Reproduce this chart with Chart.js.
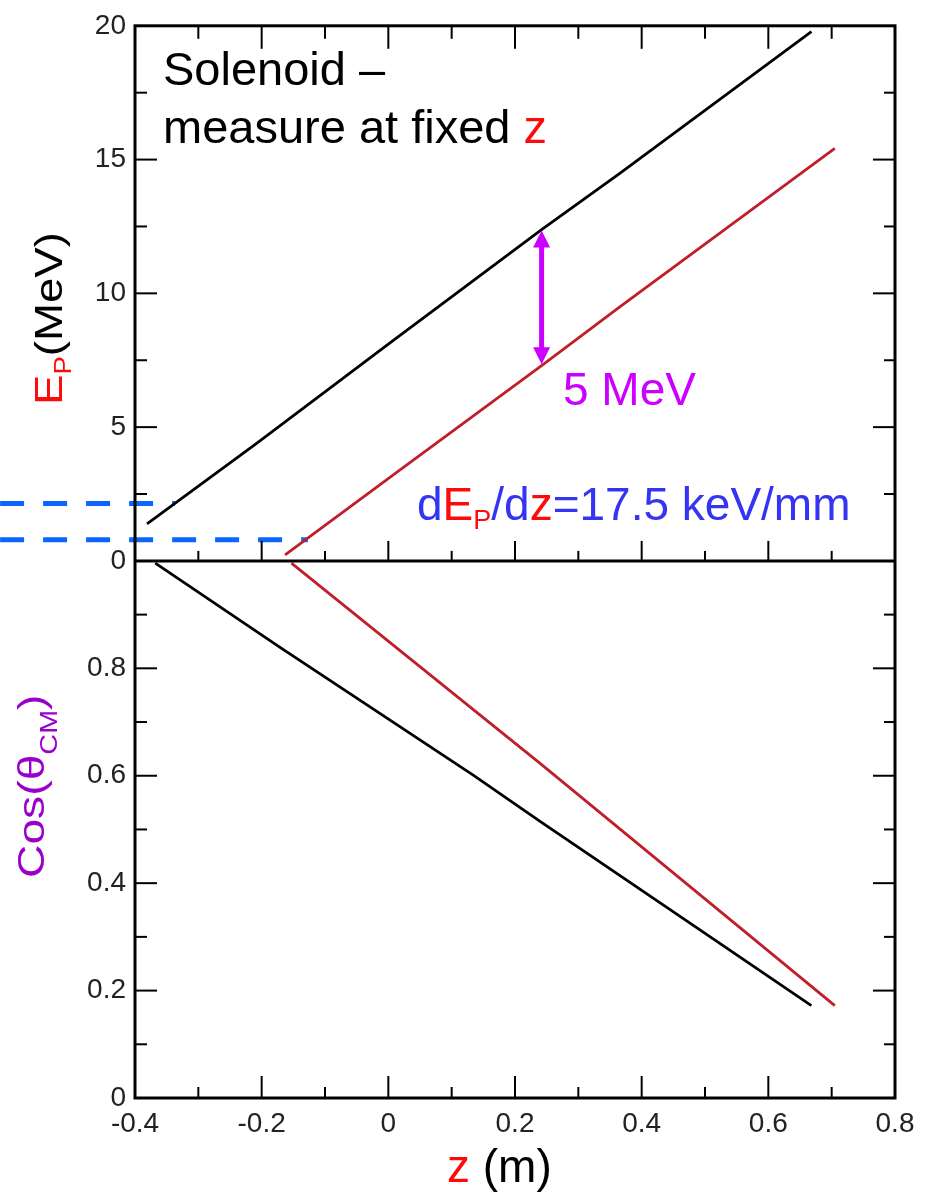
<!DOCTYPE html>
<html>
<head>
<meta charset="utf-8">
<script src="https://cdn.jsdelivr.net/npm/chart.js@4.4.1/dist/chart.umd.min.js"></script>
<style>
  html, body { margin: 0; padding: 0; background: #fff; }
  canvas { display: block; }
</style>
</head>
<body>
<canvas id="chart" width="931" height="1192"></canvas>
<script>
// Proton energy E_P (MeV) against z (m) -- upper panel
const zTopBlack = [-0.381, -0.208, 0.0, 0.242, 0.366, 0.668];
const epBlack   = [1.38, 4.39, 8.1, 12.38, 14.49, 19.78];
const zTopRed   = [-0.163, 0.0185, 0.242, 0.366, 0.705];
const epRed     = [0.23, 3.4, 7.3, 9.5, 15.42];

// cos(theta_CM) against z (m) -- lower panel
const zBotBlack = [-0.368, -0.171, 0.134, 0.2396, 0.492, 0.668];
const cosBlack  = [0.996, 0.839, 0.601, 0.515, 0.313, 0.172];
const zBotRed   = [-0.153, 0.0185, 0.2396, 0.705];
const cosRed    = [0.996, 0.833, 0.623, 0.172];

// energy read-off guides (MeV) and where they meet the curves (m)
const guideLevels = [2.15, 0.79];
const guideStartZ = -0.613;
const guideEndZ   = [-0.337, -0.127];

// the 5 MeV separation at fixed z
const arrowZ = 0.242;
const arrowTopE = 12.35;
const arrowSpan = 5;

// axis ticks and labels
const xTicks = [-0.4, -0.2, 0, 0.2, 0.4, 0.6, 0.8];
const xTickLabels = ['-0.4', '-0.2', '0', '0.2', '0.4', '0.6', '0.8'];
const eTicks = [0, 5, 10, 15, 20];
const eTickLabels = ['0', '5', '10', '15', '20'];
const cTicks = [0, 0.2, 0.4, 0.6, 0.8, 1];
const cTickLabels = ['0', '0.2', '0.4', '0.6', '0.8', ''];

const FONT = "'Liberation Sans', Arial, Helvetica, sans-serif";
const RED_LINE = '#c01f2a';
const MAGENTA = '#cc00ff';
const BLUE_TEXT = '#3434f2';
const RED_TEXT = '#ff0a0a';
const PURPLE = '#9900cc';

const pts = (xs, ys) => xs.map((x, i) => ({ x, y: ys[i] }));

function curve(xs, ys, color, axis) {
  return {
    data: pts(xs, ys), yAxisID: axis, showLine: true,
    borderColor: color, borderWidth: 2.8, pointRadius: 0, tension: 0
  };
}

const guideSets = guideLevels.map((lvl, i) => ({
  data: [{ x: guideStartZ, y: lvl }, { x: guideEndZ[i], y: lvl }],
  yAxisID: 'yE', showLine: true, borderColor: '#0a66ff', borderWidth: 5,
  borderDash: [24, 19], pointRadius: 0, clip: false
}));

function fixedTicks(values) {
  return scale => { scale.ticks = values.map(v => ({ value: v })); };
}

// minor ticks sit halfway between the labelled ones
function minorOf(list) {
  const out = [];
  for (let i = 0; i < list.length - 1; i++) out.push((list[i] + list[i + 1]) / 2);
  return out;
}

// frame around both panels plus inward-pointing tick marks
const framePlugin = {
  id: 'frame',
  afterDraw(chart) {
    const { ctx, chartArea: a } = chart;
    const { x, yE, yC } = chart.scales;
    const mid = yE.getPixelForValue(0);
    ctx.save();
    ctx.strokeStyle = '#000';
    ctx.lineCap = 'butt';
    const seg = (x1, y1, x2, y2) => { ctx.beginPath(); ctx.moveTo(x1, y1); ctx.lineTo(x2, y2); ctx.stroke(); };

    ctx.lineWidth = 2;
    const xMaj = xTicks.slice(1, -1), xMin = minorOf(xTicks);
    for (const v of xMaj) {
      const px = x.getPixelForValue(v);
      seg(px, a.top, px, a.top + 23);
      seg(px, mid, px, mid - 20);
      seg(px, a.bottom, px, a.bottom - 22);
    }
    for (const v of xMin) {
      const px = x.getPixelForValue(v);
      seg(px, a.top, px, a.top + 13);
      seg(px, mid, px, mid - 10);
      seg(px, a.bottom, px, a.bottom - 11);
    }
    const yTickSets = [[yE, eTicks], [yC, cTicks]];
    for (const [s, list] of yTickSets) {
      for (const v of list.slice(1, -1)) {
        const py = s.getPixelForValue(v);
        seg(a.left, py, a.left + 22, py);
        seg(a.right, py, a.right - 22, py);
      }
      for (const v of minorOf(list)) {
        const py = s.getPixelForValue(v);
        seg(a.left, py, a.left + 12, py);
        seg(a.right, py, a.right - 11, py);
      }
    }

    ctx.lineWidth = 3;
    ctx.strokeRect(a.left, a.top, a.right - a.left, a.bottom - a.top);
    seg(a.left, mid, a.right, mid);

    // double-headed arrow marking the energy gap
    const ax = x.getPixelForValue(arrowZ);
    const yTop = yE.getPixelForValue(arrowTopE);
    const yBot = yE.getPixelForValue(arrowTopE - arrowSpan);
    const head = 17, half = 8.5;
    ctx.strokeStyle = MAGENTA;
    ctx.fillStyle = MAGENTA;
    ctx.lineWidth = 5;
    seg(ax, yTop + head - 2, ax, yBot - head + 2);
    ctx.beginPath();
    ctx.moveTo(ax, yTop); ctx.lineTo(ax - half, yTop + head); ctx.lineTo(ax + half, yTop + head); ctx.closePath(); ctx.fill();
    ctx.beginPath();
    ctx.moveTo(ax, yBot); ctx.lineTo(ax - half, yBot - head); ctx.lineTo(ax + half, yBot - head); ctx.closePath(); ctx.fill();
    ctx.restore();
  }
};

// mixed-colour text with sub-scripts, optionally rotated and stretched
function drawRuns(ctx, x, y, runs, rotate, stretch) {
  ctx.save();
  ctx.translate(x, y);
  if (rotate) ctx.rotate(rotate);
  if (stretch) ctx.scale(stretch, 1);
  ctx.textBaseline = 'alphabetic';
  ctx.textAlign = 'left';
  let cx = 0;
  for (const r of runs) {
    ctx.font = r.size + 'px ' + FONT;
    ctx.fillStyle = r.color;
    ctx.fillText(r.t, cx, r.dy || 0);
    cx += ctx.measureText(r.t).width;
  }
  ctx.restore();
}

const textPlugin = {
  id: 'texts',
  afterDraw(chart) {
    const ctx = chart.ctx;
    drawRuns(ctx, 163, 85, [{ t: 'Solenoid \u2013', size: 47, color: '#000' }]);
    drawRuns(ctx, 163, 143, [
      { t: 'measure at fixed ', size: 47, color: '#000' },
      { t: 'z', size: 47, color: RED_TEXT }
    ]);
    drawRuns(ctx, 563, 405, [{ t: '5 MeV', size: 46, color: MAGENTA }]);
    drawRuns(ctx, 417, 520, [
      { t: 'd', size: 46, color: BLUE_TEXT },
      { t: 'E', size: 46, color: RED_TEXT },
      { t: 'P', size: 27, color: RED_TEXT, dy: 9 },
      { t: '/d', size: 46, color: BLUE_TEXT },
      { t: 'z', size: 46, color: RED_TEXT },
      { t: '=17.5 keV/mm', size: 46, color: BLUE_TEXT }
    ]);
    drawRuns(ctx, 62, 405, [
      { t: 'E', size: 38, color: RED_TEXT },
      { t: 'P', size: 23, color: RED_TEXT, dy: 9 },
      { t: '(MeV)', size: 38, color: '#000' }
    ], -Math.PI / 2, 1.2);
    drawRuns(ctx, 44, 878, [
      { t: 'Cos(\u03b8', size: 37, color: PURPLE },
      { t: 'CM', size: 23, color: PURPLE, dy: 13 },
      { t: ')', size: 37, color: PURPLE }
    ], -Math.PI / 2, 1.25);
    drawRuns(ctx, 447, 1182, [
      { t: 'z', size: 46, color: RED_TEXT },
      { t: ' (m)', size: 46, color: '#000' }
    ]);
  }
};

const tickFont = { family: FONT, size: 28 };

new Chart(document.getElementById('chart'), {
  type: 'scatter',
  data: {
    datasets: [
      curve(zTopBlack, epBlack, '#000', 'yE'),
      curve(zTopRed, epRed, RED_LINE, 'yE'),
      curve(zBotBlack, cosBlack, '#000', 'yC'),
      curve(zBotRed, cosRed, RED_LINE, 'yC'),
      ...guideSets
    ]
  },
  options: {
    responsive: false,
    animation: false,
    events: [],
    layout: { padding: { top: 20, right: 36, left: 0, bottom: 0 } },
    plugins: { legend: { display: false }, tooltip: { enabled: false } },
    scales: {
      x: {
        type: 'linear', min: -0.4, max: 0.8,
        afterBuildTicks: fixedTicks(xTicks),
        afterFit: s => { s.height = 94; },
        grid: { display: false, drawTicks: false },
        border: { display: false },
        ticks: {
          font: tickFont, color: '#222', padding: 9, maxRotation: 0, autoSkip: false,
          callback: (v, i) => xTickLabels[i]
        }
      },
      yC: {
        type: 'linear', position: 'left', stack: 'panels', stackWeight: 540,
        min: 0, max: 1,
        afterBuildTicks: fixedTicks(cTicks),
        afterFit: s => { s.width = 135; },
        grid: { display: false, drawTicks: false },
        border: { display: false },
        ticks: { font: tickFont, color: '#222', padding: 9, autoSkip: false, callback: (v, i) => cTickLabels[i] }
      },
      yE: {
        type: 'linear', position: 'left', stack: 'panels', stackWeight: 538,
        min: 0, max: 20,
        afterBuildTicks: fixedTicks(eTicks),
        afterFit: s => { s.width = 135; },
        grid: { display: false, drawTicks: false },
        border: { display: false },
        ticks: { font: tickFont, color: '#222', padding: 9, autoSkip: false, callback: (v, i) => eTickLabels[i] }
      }
    }
  },
  plugins: [framePlugin, textPlugin]
});
</script>
</body>
</html>
